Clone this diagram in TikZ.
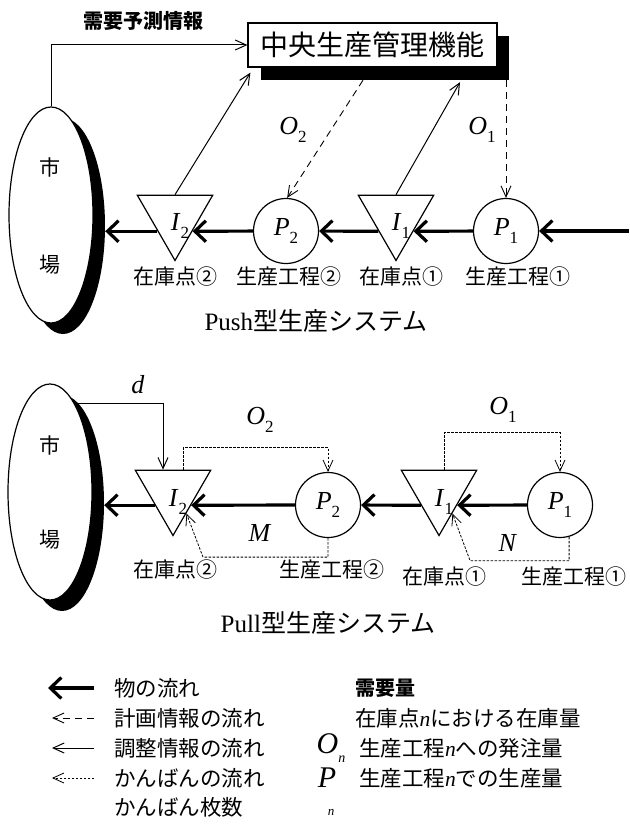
\documentclass[tikz,border=0pt]{standalone}
\usepackage{fontspec}
\setmainfont{Liberation Serif}
\newfontfamily\jp{Noto Sans CJK JP}
\usetikzlibrary{arrows.meta,shapes.geometric}
\newcommand{\fs}[1]{\fontsize{#1}{#1}\selectfont}
\newcommand{\vsub}[2]{\textit{#1}\raisebox{-0.3em}{\fs{17}#2}}
\begin{document}
\begin{tikzpicture}[x=1pt,y=-1pt,
  flow/.style={line width=3.2pt,-{Straight Barb[length=11pt,width=21pt]}},
  thinarr/.style={line width=1pt,-{Straight Barb[length=11pt,width=10pt]}},
  plan/.style={line width=0.9pt,dash pattern=on 7pt off 5pt,-{Straight Barb[length=11pt,width=10pt]}},
  kanban/.style={line width=0.8pt,dash pattern=on 2.5pt off 1.5pt,-{Straight Barb[length=11pt,width=10pt]}},
  tri/.style={draw,line width=1.2pt,regular polygon,regular polygon sides=3,shape border rotate=180,minimum size=87pt,inner sep=0pt},
  proc/.style={draw,circle,line width=1.2pt,minimum size=65pt,inner sep=0pt,font=\fs{26}},
  mkt/.style={draw,ellipse,line width=1.2pt,fill=white,minimum width=84pt,minimum height=216pt,inner sep=0pt},
  mktsh/.style={ellipse,fill=black,minimum width=84pt,minimum height=216pt,inner sep=0pt},
  jl/.style={font=\jp\fs{21},inner sep=0pt},
  var/.style={font=\fs{26},inner sep=0pt},
  lg/.style={font=\jp\fs{21.5},inner sep=0pt,anchor=west}]
\useasboundingbox (0,0) rectangle (629,829);

% ---------------- Push ----------------
\node[mktsh] (mktAsh) at (63,226) {};
\node[mkt] (mktA) at (51,215) {};
\node[jl,font=\jp\fs{21}] (shiA) at (50,167) {市};
\node[jl,font=\jp\fs{21}] (baA) at (50,265) {場};

\node[fill=black,minimum width=248pt,minimum height=44pt,inner sep=0pt] (boxsh) at (385,58) {};
\node[draw,fill=white,line width=1.2pt,minimum width=249pt,minimum height=44pt,inner sep=0pt,font=\jp\fs{28}] (box) at (372.5,45) {中央生産管理機能};
\node[font=\jp\bfseries\fs{20},inner sep=0pt] (dem) at (143,21) {需要予測情報};
\draw[thinarr] (mktA.north) |- (box.west);

\node[tri] (I2a) at (175,217) {};
\node[var] (I2al) at (180,226) {\vsub{I}{2}};
\node[proc] (P2a) at (286,231) {\vsub{P}{2}};
\node[tri] (I1a) at (396,217) {};
\node[var] (I1al) at (401,226) {\vsub{I}{1}};
\node[proc] (P1a) at (506,231) {\vsub{P}{1}};
\coordinate (inA) at (629,231);

\draw[flow] (inA) -- (P1a);
\draw[flow] (P1a) -- (I1a.-39);
\draw[flow] (I1a.219) -- (P2a);
\draw[flow] (P2a) -- (I2a.-39);
\draw[flow] (I2a.219) -- (I2a.219 -| mktAsh.east);

\draw[plan] ([xshift=-22pt]boxsh.south) -- (P2a.88);
\draw[plan] (boxsh.south -| P1a.north) -- (P1a.north);
\draw[thinarr] (I2a.90) -- ([shift={(3pt,-5pt)}]box.south west);
\draw[thinarr] (I1a.90) -- ([shift={(75pt,-2pt)}]boxsh.south);

\node[var] (O2a) at (293,130) {\vsub{O}{2}};
\node[var] (O1a) at (482,130) {\vsub{O}{1}};

\node[jl] (lI2a) at (175,277) {在庫点②};
\node[jl] (lP2a) at (289,277) {生産工程②};
\node[jl] (lI1a) at (401,277) {在庫点①};
\node[jl] (lP1a) at (518,277) {生産工程①};
\node[font=\fs{25},inner sep=0pt] (tA) at (316,321) {Push{\jp 型生産システム}};

% ---------------- Pull ----------------
\node[mktsh] (mktBsh) at (62,503) {};
\node[mkt] (mktB) at (50,492) {};
\node[jl,font=\jp\fs{21}] (shiB) at (50,445) {市};
\node[jl,font=\jp\fs{21}] (baB) at (50,540) {場};

\node[tri] (I2b) at (173,492) {};
\node[var] (I2bl) at (178,502) {\vsub{I}{2}};
\node[proc] (P2b) at (328,505) {\vsub{P}{2}};
\node[tri] (I1b) at (439,492) {};
\node[var] (I1bl) at (444,502) {\vsub{I}{1}};
\node[proc] (P1b) at (560,505) {\vsub{P}{1}};

\draw[flow] (P1b) -- (I1b.-36);
\draw[flow] (I1b.216) -- (P2b);
\draw[flow] (P2b) -- (I2b.-36);
\draw[flow] (I2b.216) -- (I2b.216 -| mktBsh.east);

\coordinate (dst) at (77,403);
\draw[thinarr] (dst) -| ([xshift=-10pt]I2b.90);
\node[var] (dB) at (138,385) {\textit{d}};

\draw[kanban] ([xshift=10pt]I2b.90) -- ++(0,-22) -| (P2b.north);
\draw[kanban] ([xshift=5pt]I1b.90) -- ++(0,-37) -| (P1b.north);
\draw[kanban] (P2b.south) -- ++(0,19) -- ++(-125,0) -- (I2b.-58);
\draw[kanban] (P1b.-74) -- ++(0,24) -- ++(-99,0) -- (I1b.-58);

\node[var] (O2b) at (260,420) {\vsub{O}{2}};
\node[var] (O1b) at (503,410) {\vsub{O}{1}};
\node[var] (Mb) at (260,533) {\textit{M}};
\node[var] (Nb) at (508,543) {\textit{N}};

\node[jl] (lI2b) at (175,570) {在庫点②};
\node[jl] (lP2b) at (332,570) {生産工程②};
\node[jl] (lI1b) at (444,577) {在庫点①};
\node[jl] (lP1b) at (574,577) {生産工程①};
\node[font=\fs{25},inner sep=0pt] (tB) at (328,623) {Pull{\jp 型生産システム}};

% ---------------- Legend ----------------
\coordinate (la1) at (94,688); \coordinate (lb1) at (48,688);
\coordinate (la2) at (94,718); \coordinate (lb2) at (52,718);
\coordinate (la3) at (94,748); \coordinate (lb3) at (52,748);
\coordinate (la4) at (94,778); \coordinate (lb4) at (52,778);
\draw[flow] (la1) -- (lb1);
\draw[plan] (la2) -- (lb2);
\draw[thinarr] (la3) -- (lb3);
\draw[kanban] (la4) -- (lb4);
\node[lg] (lt1) at (114,688) {物の流れ};
\node[lg] (lt2) at (114,718) {計画情報の流れ};
\node[lg] (lt3) at (114,748) {調整情報の流れ};
\node[lg] (lt4) at (114,778) {かんばんの流れ};
\node[lg] (lt5) at (114,807) {かんばん枚数};

\node[lg,font=\jp\bfseries\fs{20}] (rt1) at (355,688) {需要量};
\node[lg] (rt2) at (355,718) {在庫点\textrm{\textit{n}}における在庫量};
\node[font=\fs{30},inner sep=0pt] (On) at (331,748) {\textit{O}\raisebox{-0.3em}{\fs{14}\textit{n}}};
\node[lg] (rt3) at (359,748) {生産工程\textrm{\textit{n}}への発注量};
\node[font=\fs{30},inner sep=0pt] (Pn) at (327,778) {\textit{P}};
\node[font=\fs{13},inner sep=0pt] (Pnn) at (331,812) {\textit{n}};
\node[lg] (rt4) at (359,778) {生産工程\textrm{\textit{n}}での生産量};
\end{tikzpicture}
\end{document}
